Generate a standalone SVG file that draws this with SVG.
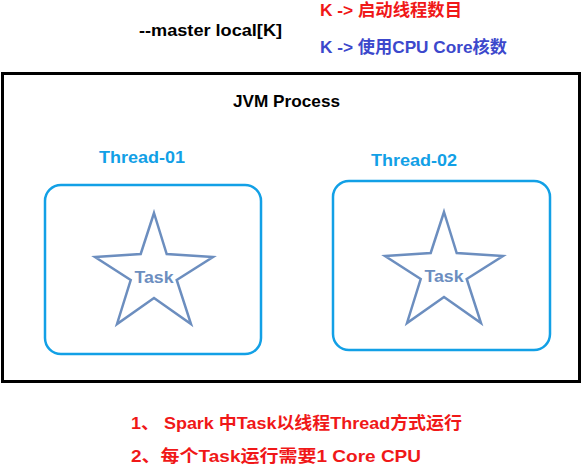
<svg xmlns="http://www.w3.org/2000/svg" width="583" height="465" viewBox="0 0 583 465">
<style>
.t{font-family:"Liberation Sans","Noto Sans CJK SC",sans-serif;font-weight:bold;font-size:17px}
.red{fill:#F01818}
.blue{fill:#3C48CC}
.thr{fill:#12A0E6}
.task{fill:#6C8EBF;font-size:17px}
.box{fill:#fff;stroke:#12A0E6;stroke-width:2.5}
.star{fill:none;stroke:#6C8EBF;stroke-width:2.5;stroke-linejoin:miter}
</style>
<rect width="583" height="465" fill="#fff"/>
<g id="header">
<text class="t" x="139" y="36" textLength="143" lengthAdjust="spacingAndGlyphs">--master local[K]</text>
<text class="t red" x="320" y="16" textLength="142" lengthAdjust="spacingAndGlyphs">K -&gt; 启动线程数目</text>
<text class="t blue" x="320" y="53" textLength="187" lengthAdjust="spacingAndGlyphs">K -&gt; 使用CPU Core核数</text>
</g>
<g id="jvm">
<rect x="2.5" y="73.5" width="577" height="308" fill="none" stroke="#000" stroke-width="3"/>
<text class="t" x="233" y="107" textLength="107" lengthAdjust="spacingAndGlyphs">JVM Process</text>
</g>
<g id="thread01">
<text class="t thr" x="99" y="163" textLength="86" lengthAdjust="spacingAndGlyphs">Thread-01</text>
<rect class="box" x="45" y="185" width="216" height="169" rx="16"/>
<path class="star" d="M154,213 L166.7,254 L213,257 L176.7,280 L191,324 L154,298 L117,324 L130.7,280 L95,257 L140.7,254 Z"/>
<text class="t task" x="154" y="283" text-anchor="middle" textLength="39" lengthAdjust="spacingAndGlyphs">Task</text>
</g>
<g id="thread02">
<text class="t thr" x="371" y="166" textLength="86" lengthAdjust="spacingAndGlyphs">Thread-02</text>
<rect class="box" x="333" y="181" width="217" height="169" rx="16"/>
<path class="star" d="M444,212 L456.7,253 L503,256 L466.7,279 L481,323 L444,297 L407,323 L420.7,279 L385,256 L430.7,253 Z"/>
<text class="t task" x="444" y="282" text-anchor="middle" textLength="39" lengthAdjust="spacingAndGlyphs">Task</text>
</g>
<g id="notes">
<text class="t red" x="131" y="429" textLength="331" lengthAdjust="spacingAndGlyphs">1、 Spark 中Task以线程Thread方式运行</text>
<text class="t red" x="131" y="462" textLength="290" lengthAdjust="spacingAndGlyphs">2、每个Task运行需要1 Core CPU</text>
</g>
<g id="connectors"/>
</svg>
